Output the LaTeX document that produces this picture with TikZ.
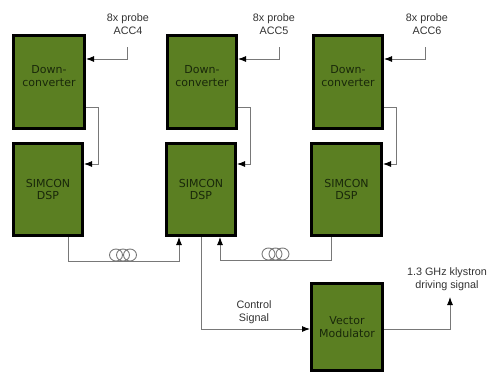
\documentclass[tikz,border=0pt]{standalone}
\usepackage{fontspec}
\setmainfont{Liberation Sans}
\newfontfamily\boxfont{DejaVu Sans}
\usetikzlibrary{arrows.meta,calc}
\definecolor{boxgreen}{RGB}{91,127,34}
\definecolor{boxtext}{RGB}{25,40,10}
\definecolor{linegray}{RGB}{120,120,120}
\definecolor{labelgray}{RGB}{50,50,50}
\newcommand{\dctext}{\raisebox{2pt}[0pt][0pt]{\begin{tabular}{@{}c@{}}Down-\\converter\end{tabular}}}
\begin{document}
\begin{tikzpicture}[x=1pt,y=1pt,
  blk/.style={draw=black,line width=3pt,fill=boxgreen,text=boxtext,
    font=\boxfont\fontsize{11}{12.5}\selectfont,align=center,inner sep=0pt},
  conn/.style={draw=linegray,line width=0.9pt},
  arr/.style={conn,-{Latex[length=8pt,width=6pt,black]}},
  lbl/.style={text=labelgray,font=\fontsize{10.8}{13}\selectfont,align=center,inner sep=0pt},
  coilst/.style={draw=linegray,line width=0.9pt}]
\useasboundingbox (0,0) rectangle (487,-376);
% boxes
\node[blk,minimum width=71pt,minimum height=93pt] (dc1) at (49,-82) {\dctext};
\node[blk,minimum width=69pt,minimum height=93pt] (dc2) at (202,-82) {\dctext};
\node[blk,minimum width=69pt,minimum height=93pt] (dc3) at (348,-82) {\dctext};
\node[blk,minimum width=69pt,minimum height=92pt] (sim1) at (48,-189.5) {SIMCON\\DSP};
\node[blk,minimum width=69pt,minimum height=92pt] (sim2) at (201,-189.5) {SIMCON\\DSP};
\node[blk,minimum width=70pt,minimum height=92pt] (sim3) at (346.5,-189.5) {SIMCON\\DSP};
\node[blk,minimum width=71pt,minimum height=87pt] (vm) at (347,-327) {Vector\\Modulator};
% probe labels
\node[lbl] (pr4) at (128,-24) {8x probe\\ACC4};
\node[lbl] (pr5) at (274,-24) {8x probe\\ACC5};
\node[lbl] (pr6) at (427,-24) {8x probe\\ACC6};
\coordinate (p4) at (127,-47);
\coordinate (p5) at (279,-47);
\coordinate (p6) at (425,-47);
\draw[arr] (p4) |- ([yshift=23pt]dc1.east);
\draw[arr] (p5) |- ([yshift=23pt]dc2.east);
\draw[arr] (p6) |- ([yshift=23pt]dc3.east);
% downconverter -> simcon
\draw[arr] ([yshift=-25pt]dc1.east) -- ++(12,0) |- ([yshift=25.5pt]sim1.east);
\draw[arr] ([yshift=-25pt]dc2.east) -- ++(12,0) |- ([yshift=25.5pt]sim2.east);
\draw[arr] ([yshift=-25pt]dc3.east) -- ++(12,0) |- ([yshift=25.5pt]sim3.east);
% fibre links
\draw[arr] ([xshift=20pt]sim1.south) -- ++(0,-24) -| ([xshift=-22pt]sim2.south);
\draw[arr] ([xshift=-15.5pt]sim3.south) -- ++(0,-23) -| ([xshift=19pt]sim2.south);
% coils
\foreach \cx in {116,123,130} \draw[coilst] (\cx,-255) ellipse (6.5 and 6);
\foreach \cx in {268.5,275.5,282.5} \draw[coilst] (\cx,-254) ellipse (6.5 and 6);
% control signal
\draw[arr] (sim2.south) |- ([yshift=-2pt]vm.west);
\node[lbl] (cs) at (254,-312) {Control\\Signal};
% output
\coordinate (kout) at (450,-297);
\draw[arr] ([yshift=-2pt]vm.east) -| (kout);
\node[lbl] (kl) at (447,-279) {1.3 GHz klystron\\driving signal};
\end{tikzpicture}
\end{document}
